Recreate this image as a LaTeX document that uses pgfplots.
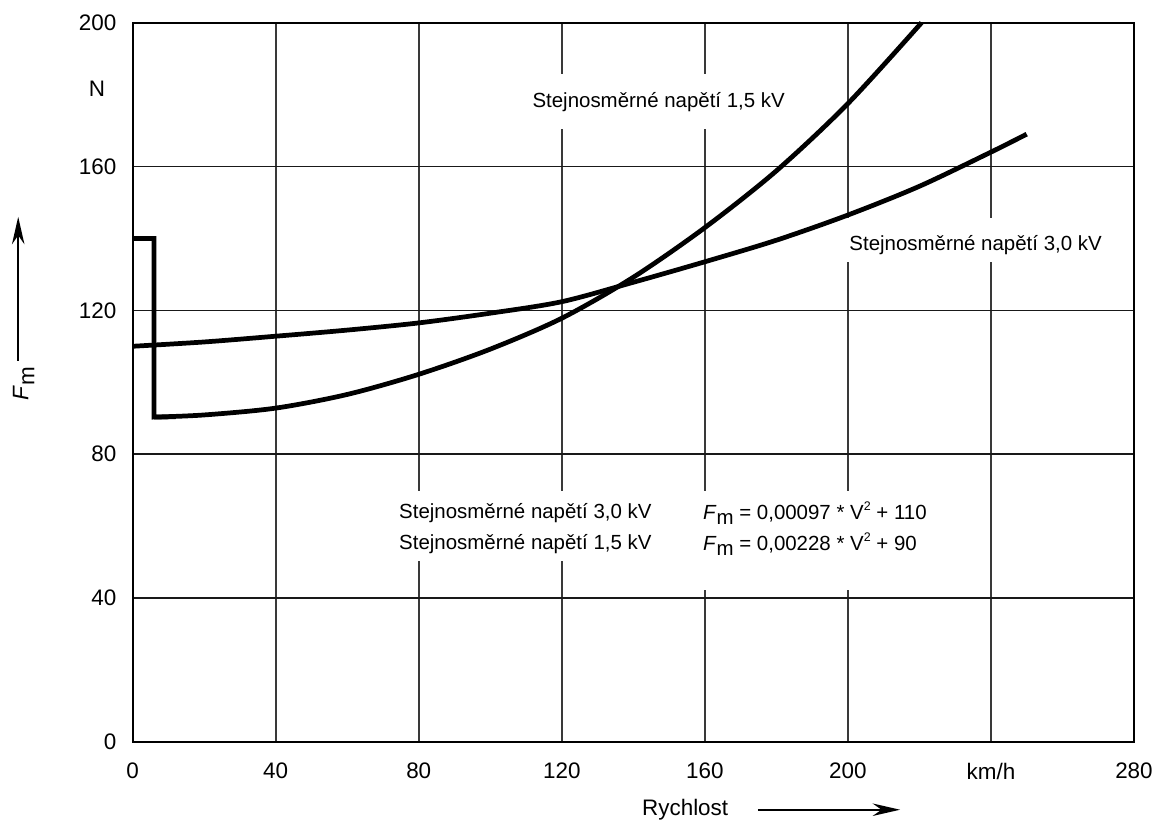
\documentclass[border=0pt]{standalone}
\usepackage{pgfplots}
\pgfplotsset{compat=1.18}
\usepackage{fontspec}
\setmainfont{Liberation Sans}
\usetikzlibrary{arrows.meta}

\newcommand\lab{\fontsize{8.2}{9.5}\selectfont}
\newcommand\tck{\fontsize{9}{11}\selectfont}

\begin{document}
\begin{tikzpicture}
\begin{axis}[
    scale only axis,
    width=401.6pt, height=288.4pt,
    xmin=0, xmax=280, ymin=0, ymax=200,
    xtick={0,40,...,280},
    xticklabels={0,40,80,120,160,200,km/h,280},
    ytick={0,40,...,200},
    grid=major,
    major grid style={black!90, line width=0.6pt},
    major x grid style={black!55!gray, line width=0.65pt},
    axis line style={line width=0.9pt},
    major tick length=0pt,
    tick label style={font=\tck},
    xticklabel style={yshift=-5pt},
    yticklabel style={xshift=-3pt},
    /pgf/number format/assume math mode=true,
    clip=false,
]

% white gaps behind the texts
\fill[white] (axis cs:112,170.5) rectangle (axis cs:183,185.8);
\fill[white] (axis cs:199.5,133.4) rectangle (axis cs:270.5,145.6);
\fill[white] (axis cs:74,50.3) rectangle (axis cs:145,69.7);
\fill[white] (axis cs:158.5,42.2) rectangle (axis cs:226,69.7);

\node[font=\lab] at (axis cs:147.1,178) {Stejnosměrné napětí 1,5 kV};
\node[font=\lab, anchor=west, inner xsep=0pt] at (axis cs:200.3,138.1) {Stejnosměrné napětí 3,0 kV};
\node[font=\lab, anchor=west, inner xsep=0pt] at (axis cs:74.4,63.6) {Stejnosměrné napětí 3,0 kV};
\node[font=\lab, anchor=west, inner xsep=0pt] at (axis cs:74.4,55.0) {Stejnosměrné napětí 1,5 kV};
\node[font=\lab, anchor=west, inner xsep=0pt] at (axis cs:159.4,63.6)
  {\textit{F}\raisebox{-0.45ex}{m} = 0,00097 * V\raisebox{0.9ex}{\tiny 2} + 110};
\node[font=\lab, anchor=west, inner xsep=0pt] at (axis cs:159.4,55.0)
  {\textit{F}\raisebox{-0.45ex}{m} = 0,00228 * V\raisebox{0.9ex}{\tiny 2} + 90};

% 3,0 kV
\addplot[black, line width=1.9pt, smooth] coordinates {
  (0,110) (20,111.2) (40,112.8) (60,114.5) (80,116.5) (100,119.2)
  (120,122.4) (140,127.8) (160,133.5) (180,139.5) (200,146.5)
  (220,154.5) (240,164) (250,169)
};
% 1,5 kV step
\addplot[black, line width=1.9pt, sharp plot, line join=miter] coordinates {
  (0,140) (6,140) (6,90.3) (12,90.4)
};
% 1,5 kV curve
\addplot[black, line width=1.9pt, smooth] coordinates {
  (6,90.3) (20,90.9) (40,92.8) (60,96.6) (80,102.2) (100,109.2)
  (120,117.8) (140,129.2) (160,143) (180,158.8) (200,177.5) (220.6,200)
};

\node[font=\tck, anchor=east, xshift=-7.5pt] at (axis cs:0,181.7) {N};

% axis titles with arrows
\draw[line width=0.8pt, -{Stealth[length=11pt,width=5pt]}]
  (axis cs:-32,106) -- (axis cs:-32,146);
\node[font=\tck, rotate=90] at (axis cs:-30.5,99.5) {\textit{F}\raisebox{-0.5ex}{m}};
\draw[line width=0.8pt, -{Stealth[length=11pt,width=5pt]}]
  (axis cs:174.8,-18.9) -- (axis cs:214.6,-18.9);
\node[font=\tck] at (axis cs:154.5,-18.9) {Rychlost};

\end{axis}
\path ([xshift=-53.2pt,yshift=-32pt]current axis.south west)
  rectangle ([xshift=9.4pt,yshift=9.1pt]current axis.north east);
\end{tikzpicture}
\end{document}
